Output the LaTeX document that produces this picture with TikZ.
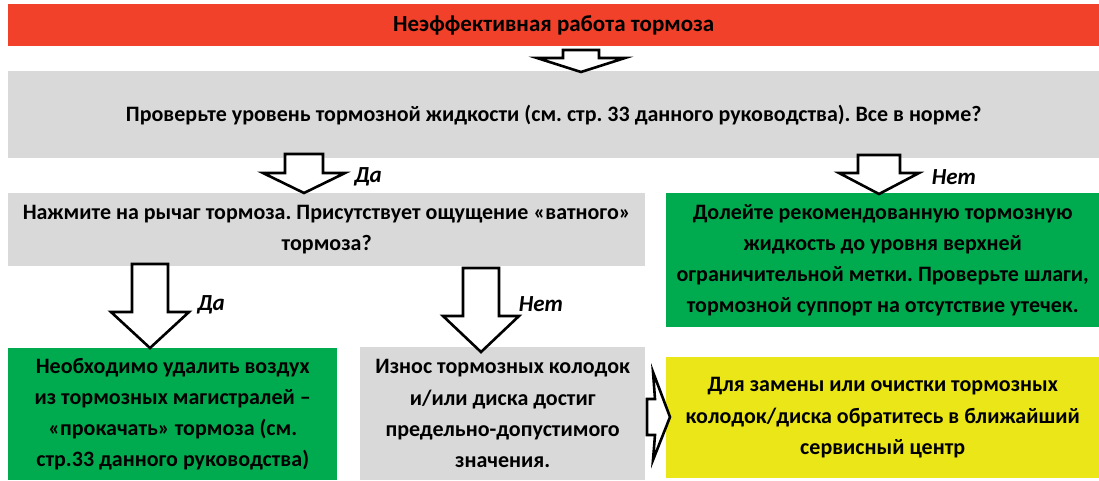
\documentclass[tikz,border=0pt]{standalone}
\usepackage{fontspec}
\setmainfont{Carlito}
\frenchspacing
\definecolor{cred}{HTML}{F2412A}
\definecolor{cgray}{HTML}{D9D9D9}
\definecolor{cgreen}{HTML}{00AB50}
\definecolor{cyellow}{HTML}{EBE618}
\newcommand\blkdown[6]{% x, top, shoulder, tip, shaft half, head half
  \draw[blk] ({#1-#5},#2) -- ({#1+#5},#2) -- ({#1+#5},#3) -- ({#1+#6},#3) -- (#1,#4) -- ({#1-#6},#3) -- ({#1-#5},#3) -- cycle;}
\begin{document}
\begin{tikzpicture}[x=1pt,y=-1pt,
  box/.style={inner sep=0pt, align=center, anchor=north west,
    font=\fontsize{22}{31.3}\selectfont\bfseries\frenchspacing},
  blk/.style={draw=black, fill=white, line width=2.6pt, line join=miter},
  lbl/.style={inner sep=0pt, font=\fontsize{23}{26}\selectfont\bfseries\itshape}]
\useasboundingbox (0,0) rectangle (1099,480);
\node[box, fill=cred, minimum width=1091pt, minimum height=42pt, font=\fontsize{23}{26}\selectfont\bfseries] (title) at (8,4) {Неэффективная работа тормоза};
\node[box, fill=cgray, minimum width=1091pt, minimum height=87pt] (q1) at (8,71) {Проверьте уровень тормозной жидкости (см. стр. 33 данного руководства). Все в норме?};
\node[box, fill=cgray, minimum width=637pt, minimum height=73pt] (q2) at (8,193) {Нажмите на рычаг тормоза. Присутствует ощущение «ватного»\\тормоза?};
\node[box, fill=cgreen, minimum width=433pt, minimum height=134pt] (fill) at (666,193) {\rule{0pt}{3pt}Долейте рекомендованную тормозную\\жидкость до уровня верхней\\ограничительной метки. Проверьте шлаги,\\тормозной суппорт на отсутствие утечек.};
\node[box, fill=cgreen, minimum width=329pt, minimum height=132pt] (air) at (8,348) {Необходимо удалить воздух\\из тормозных магистралей –\\«прокачать» тормоза (см.\\стр.33 данного руководства)};
\node[box, fill=cgray, minimum width=285pt, minimum height=133pt] (wear) at (360,347) {Износ тормозных колодок\\и/или диска достиг\\предельно-допустимого\\значения.};
\node[box, fill=cyellow, minimum width=433pt, minimum height=121pt] (svc) at (666,357) {Для замены или очистки тормозных\\колодок/диска обратитесь в ближайший\\сервисный центр};
\blkdown{581}{50}{58}{72}{18}{44}
\blkdown{304}{154}{173}{193}{19}{41}
\blkdown{879}{155}{173}{194}{21}{40}
\blkdown{150}{264}{312}{348}{18}{39}
\blkdown{481}{268}{316}{352}{18}{38}
\draw[blk] (647,399) -- (655,399) -- (653,372) -- (670,417) -- (653,460) -- (655,435) -- (647,435) -- cycle;
\node[lbl] (l1) at (368,177) {Да};
\node[lbl] (l2) at (954,177) {Нет};
\node[lbl] (l3) at (211,305) {Да};
\node[lbl] (l4) at (541,304) {Нет};
\end{tikzpicture}
\end{document}
